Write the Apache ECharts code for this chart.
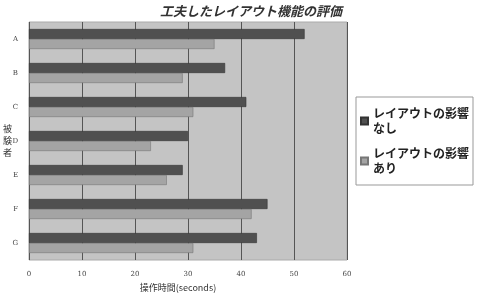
<!DOCTYPE html>
<html>
<head>
<meta charset="utf-8">
<script src="https://cdn.jsdelivr.net/npm/echarts@6/dist/echarts.min.js"></script>
<style>
  html, body { margin: 0; padding: 0; background: #fff; }
  #main { width: 479px; height: 298px; }
</style>
</head>
<body>
<div id="main"></div>
<script>
// 被験者
var subjects = ['A', 'B', 'C', 'D', 'E', 'F', 'G'];
// 操作時間(seconds)
var noEffect = [52, 37, 41, 30, 29, 45, 43];   // レイアウトの影響なし
var withEffect = [35, 29, 31, 23, 26, 42, 31]; // レイアウトの影響あり
var seriesNames = ['レイアウトの影響\nなし', 'レイアウトの影響\nあり'];

var font = '"Noto Sans CJK JP", sans-serif';

var option = {
    animation: false,
    title: {
        text: '工夫したレイアウト機能の評価',
        left: 246,
        textAlign: 'center',
        top: 0,
        textStyle: { fontSize: 13, fontWeight: 'bold', fontStyle: 'italic', color: '#333', fontFamily: font }
    },
    legend: {
        orient: 'vertical',
        left: 356,
        top: 97,
        padding: [9, 4, 9, 4],
        itemGap: 10,
        itemWidth: 7,
        itemHeight: 7,
        borderColor: '#999',
        borderWidth: 1,
        icon: 'rect',
        textStyle: { fontSize: 12, fontWeight: 'bold', color: '#222', fontFamily: font, lineHeight: 15 }
    },
    grid: {
        left: 29, right: 132, top: 22, bottom: 38,
        outerBoundsMode: 'none',
        backgroundColor: '#c4c4c4', show: true, borderColor: '#aaa', borderWidth: 1
    },
    xAxis: {
        type: 'value',
        min: 0,
        max: 60,
        interval: 10,
        name: '操作時間(seconds)',
        nameLocation: 'middle',
        nameGap: 20,
        nameTextStyle: { fontSize: 9, color: '#333', fontFamily: font, padding: [0, 20, 0, 0] },
        axisLine: { show: false },
        axisTick: { show: false },
        axisLabel: { fontSize: 7, color: '#444', margin: 11, fontFamily: 'DejaVu Serif' },
        splitLine: { show: true, lineStyle: { color: '#555', width: 1 } }
    },
    yAxis: {
        type: 'category',
        data: subjects,
        inverse: true,
        name: '被\n験\n者',
        nameLocation: 'middle',
        nameRotate: 0,
        nameGap: 17,
        nameMoveOverlap: false,
        nameTextStyle: { fontSize: 9, color: '#333', fontFamily: font, lineHeight: 12 },
        axisLine: { show: false },
        axisTick: { show: false },
        axisLabel: { fontSize: 7, color: '#444', margin: 11, fontFamily: 'DejaVu Serif' },
        splitLine: { show: false }
    },
    series: [
        {
            name: seriesNames[0],
            type: 'bar',
            data: noEffect,
            barWidth: 10,
            barGap: '0%',
            itemStyle: { color: '#505050', borderColor: '#333', borderWidth: 0.6 }
        },
        {
            name: seriesNames[1],
            type: 'bar',
            data: withEffect,
            barWidth: 10,
            barGap: '0%',
            itemStyle: { color: '#a4a4a4', borderColor: '#777', borderWidth: 0.6 }
        }
    ]
};

var myChart = echarts.init(document.getElementById('main'));
myChart.setOption(option);
</script>
</body>
</html>
